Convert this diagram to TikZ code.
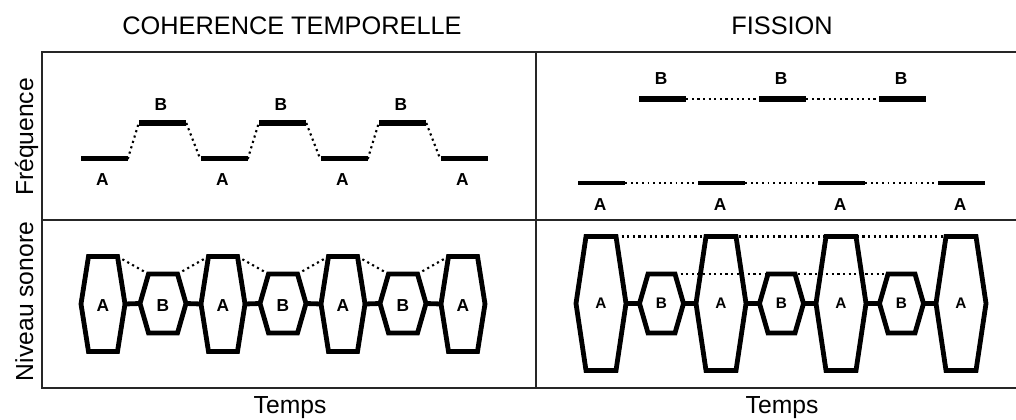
\documentclass[tikz,border=0pt]{standalone}
\usepackage{fontspec}
\setmainfont{Liberation Sans}
\newcommand\hexnode[8]{% name, cx, cy, top half width, mid half width, half height, label, label style
  \coordinate (#1-tl) at ({#2-#4},{#3-#6});
  \coordinate (#1-tr) at ({#2+#4},{#3-#6});
  \coordinate (#1-r) at ({#2+#5},#3);
  \coordinate (#1-br) at ({#2+#4},{#3+#6});
  \coordinate (#1-bl) at ({#2-#4},{#3+#6});
  \coordinate (#1-l) at ({#2-#5},#3);
  \draw[hexline] (#1-tl) -- (#1-tr) -- (#1-r) -- (#1-br) -- (#1-bl) -- (#1-l) -- cycle;
  \node[#8] (#1) at (#2,#3) {#7};
}
\begin{document}
\begin{tikzpicture}[x=0.75pt,y=-0.75pt,
  frame/.style={line width=1.2pt, draw=black!85},
  bar/.style={rectangle, fill=black, inner sep=0pt, minimum width=35.25pt, minimum height=3.75pt},
  barB/.style={bar, minimum height=4.4pt},
  barthin/.style={bar, minimum height=3.3pt},
  dots/.style={line width=1.6pt, dash pattern=on 1.6pt off 2.6pt},
  thindots/.style={line width=1.1pt, dash pattern=on 1.3pt off 2.9pt},
  hexline/.style={line width=3.6pt},
  lettre/.style={font={\bfseries\fontsize{13}{15}\selectfont}, anchor=base, inner sep=0pt},
  hexlabL/.style={font={\bfseries\fontsize{13}{15}\selectfont}, inner sep=0pt, yshift=-1.5pt},
  hexlabR/.style={font={\bfseries\fontsize{11.5}{13}\selectfont}, inner sep=0pt},
  titre/.style={font={\fontsize{19}{22}\selectfont}, anchor=base, inner sep=0pt},
  axe/.style={font={\fontsize{18.5}{22}\selectfont}, anchor=base, inner sep=0pt}
]
\useasboundingbox (0,0) rectangle (1016,420);

% frame
\coordinate (TL) at (42,52);  \coordinate (TR) at (1016,52);
\coordinate (ML) at (42,220); \coordinate (MR) at (1016,220);
\coordinate (BL) at (42,388); \coordinate (BR) at (1016,388);
\coordinate (DT) at (536,52); \coordinate (DB) at (536,388);
\draw[frame] (TR) -- (TL) -- (BL) -- (BR);
\draw[frame] (ML) -- (MR);
\draw[frame] (DT) -- (DB);

% titles and axis labels
\node[titre] (t1) at (292,35) {COHERENCE TEMPORELLE};
\node[titre] (t2) at (782,35) {FISSION};
\node[axe, rotate=90] (yf) at (33,137) {Fréquence};
\node[axe, rotate=90] (yn) at (33,301.5) {Niveau sonore};
\node[axe] (tx1) at (290,413) {Temps};
\node[axe] (tx2) at (782,413) {Temps};

% top left: temporal coherence
\foreach \i in {0,...,3} {
  \node[bar] (La\i) at ({104+120*\i},159) {};
  \node[lettre] (LaT\i) at ({102.5+120*\i},186) {A};
}
\foreach \i in {0,1,2} {
  \node[barB] (Lb\i) at ({162.5+120*\i},123) {};
  \node[lettre] (LbT\i) at ({161+120*\i},111) {B};
}
\foreach \i [evaluate=\i as \j using int(\i+1)] in {0,1,2} {
  \draw[dots] (La\i.east) -- (Lb\i.west);
  \draw[dots] (Lb\i.east) -- (La\j.west);
}

% top right: fission
\foreach \i in {0,...,3} {
  \node[barthin] (Ra\i) at ({601.5+120*\i},183) {};
  \node[lettre] (RaT\i) at ({600+120*\i},210) {A};
}
\foreach \i in {0,1,2} {
  \node[barB] (Rb\i) at ({662.5+120*\i},99) {};
  \node[lettre] (RbT\i) at ({661+120*\i},85) {B};
}
\foreach \i [evaluate=\i as \j using int(\i+1)] in {0,1,2} {
  \draw[thindots] (Ra\i.east) -- (Ra\j.west);
}
\foreach \i [evaluate=\i as \j using int(\i+1)] in {0,1} {
  \draw[dots] (Rb\i.east) -- (Rb\j.west);
}

% bottom left: loudness, coherence
\foreach \i in {0,...,3} {
  \hexnode{LA\i}{103+120*\i}{304}{14.5}{22}{47.5}{A}{hexlabL}
}
\foreach \i in {0,1,2} {
  \hexnode{LB\i}{163+120*\i}{303.5}{14.5}{23}{29.5}{B}{hexlabL}
}
\foreach \i [evaluate=\i as \j using int(\i+1)] in {0,1,2} {
  \draw[hexline] (LA\i-r) -- (LB\i-l);
  \draw[hexline] (LB\i-r) -- (LA\j-l);
  \draw[dots] (LA\i-tr) -- (LB\i-tl);
  \draw[dots] (LB\i-tr) -- (LA\j-tl);
}

% bottom right: loudness, fission
\foreach \i in {0,...,3} {
  \hexnode{RA\i}{601+120*\i}{303.5}{15}{25}{67}{A}{hexlabR}
}
\foreach \i in {0,1,2} {
  \hexnode{RB\i}{661.5+120*\i}{303.5}{13.5}{22}{29.5}{B}{hexlabR}
}
\foreach \i [evaluate=\i as \j using int(\i+1)] in {0,1,2} {
  \draw[hexline] (RA\i-r) -- (RB\i-l);
  \draw[hexline] (RB\i-r) -- (RA\j-l);
}
\draw[dots] (RA0-tr) -- (RA3-tl);
\draw[dots] (RB0-tr) -- (RB2-tl);
\end{tikzpicture}
\end{document}
